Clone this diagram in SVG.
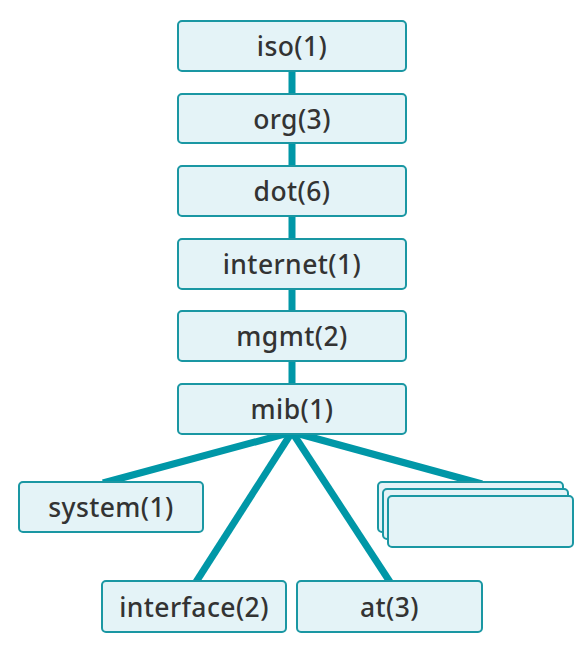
<svg xmlns="http://www.w3.org/2000/svg" width="584" height="654" viewBox="0 0 584 654">
<style>
.n rect{fill:#e4f3f7;stroke:#1a97a3;stroke-width:2}
.n text{font-family:"Noto Sans","Open Sans",sans-serif;font-size:26.5px;font-weight:500;letter-spacing:0.4px;fill:#333;text-anchor:middle;dominant-baseline:central}
#edges line{stroke:#0097a7;stroke-width:7}
</style>
<rect width="584" height="654" fill="#fff"/>
<g id="edges">
<line x1="292" y1="71" x2="292" y2="94"/>
<line x1="292" y1="143" x2="292" y2="166"/>
<line x1="292" y1="216" x2="292" y2="239"/>
<line x1="292" y1="289" x2="292" y2="311"/>
<line x1="292" y1="361" x2="292" y2="384"/>
<line x1="292" y1="432" x2="103" y2="483"/>
<line x1="292" y1="432" x2="196" y2="582"/>
<line x1="292" y1="432" x2="390" y2="582"/>
<line x1="292" y1="432" x2="482" y2="484"/>
</g>
<g id="iso" class="n"><rect x="178" y="21" width="228" height="50" rx="4"/><text x="292" y="46">iso(1)</text></g>
<g id="org" class="n"><rect x="178" y="94" width="228" height="49" rx="4"/><text x="292" y="118.5">org(3)</text></g>
<g id="dot" class="n"><rect x="178" y="166" width="228" height="50" rx="4"/><text x="292" y="191">dot(6)</text></g>
<g id="internet" class="n"><rect x="178" y="239" width="228" height="50" rx="4"/><text x="292" y="264">internet(1)</text></g>
<g id="mgmt" class="n"><rect x="178" y="311" width="228" height="50" rx="4"/><text x="292" y="336">mgmt(2)</text></g>
<g id="mib" class="n"><rect x="178" y="384" width="228" height="50" rx="4"/><text x="292" y="409">mib(1)</text></g>
<g id="system" class="n"><rect x="19" y="482" width="184" height="50" rx="4"/><text x="111" y="507">system(1)</text></g>
<g id="interface" class="n"><rect x="102" y="581" width="184" height="51" rx="4"/><text x="194" y="606.5">interface(2)</text></g>
<g id="at" class="n"><rect x="297" y="581" width="185" height="51" rx="4"/><text x="389.5" y="606.5">at(3)</text></g>
<g id="more" class="n"><rect x="378" y="482" width="185" height="50" rx="4"/><rect x="383" y="489" width="185" height="50" rx="4"/><rect x="388" y="496" width="185" height="51" rx="4"/></g>
</svg>
